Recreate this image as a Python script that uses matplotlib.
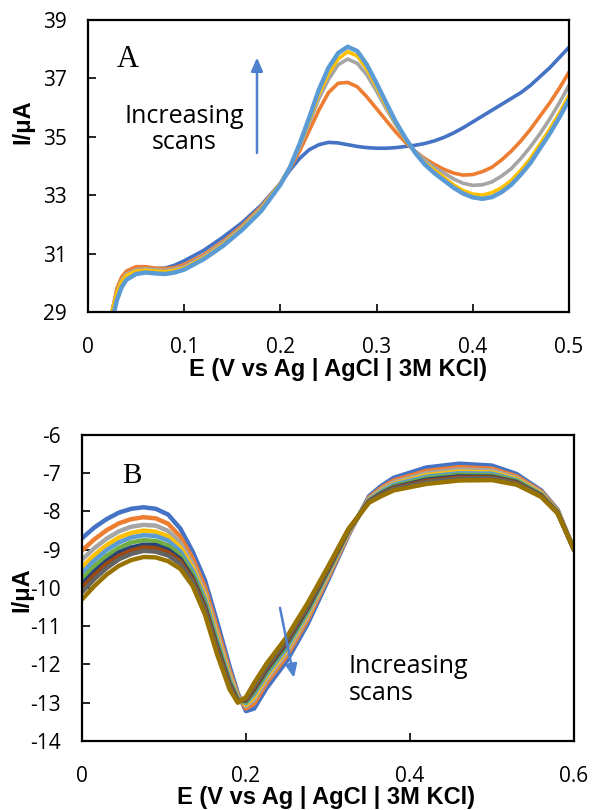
"""
Two-panel voltammogram figure (A: growing oxidation peak, B: repeated scans).
Excel-style look: boxed axes, inward ticks, thick coloured traces.
"""

import matplotlib
matplotlib.use("Agg")
import matplotlib.pyplot as plt

plt.rcParams["axes.unicode_minus"] = False

# ---- panel A: five scans ----------------------------------------------------
xa = [0.025, 0.03, 0.035, 0.04, 0.05, 0.06, 0.07, 0.08, 0.09, 0.10,
      0.12, 0.14, 0.16, 0.18, 0.20, 0.21, 0.22, 0.23, 0.24, 0.25,
      0.26, 0.27, 0.28, 0.29, 0.30, 0.31, 0.32, 0.33, 0.34, 0.35,
      0.36, 0.37, 0.38, 0.39, 0.40, 0.41, 0.42, 0.43, 0.44, 0.45,
      0.46, 0.47, 0.48, 0.49, 0.50]

a_scan1 = [29.0, 29.7, 30.1, 30.3, 30.45, 30.5, 30.48, 30.5, 30.6, 30.75,
           31.1, 31.55, 32.05, 32.65, 33.4, 33.85, 34.25, 34.55, 34.72, 34.8,
           34.78, 34.72, 34.66, 34.62, 34.6, 34.6, 34.62, 34.66, 34.7, 34.76,
           34.85, 34.97, 35.12, 35.3, 35.5, 35.7, 35.9, 36.1, 36.3, 36.5,
           36.75, 37.05, 37.35, 37.7, 38.05]
a_scan2 = [29.0, 29.8, 30.2, 30.4, 30.55, 30.55, 30.5, 30.48, 30.52, 30.62,
           30.95, 31.4, 31.95, 32.6, 33.4, 33.9, 34.5, 35.2, 35.9, 36.5,
           36.82, 36.85, 36.7, 36.35, 35.95, 35.55, 35.15, 34.8, 34.5, 34.25,
           34.05, 33.88, 33.75, 33.68, 33.7, 33.8, 33.95, 34.2, 34.5, 34.85,
           35.25, 35.7, 36.15, 36.65, 37.2]
a_scan3 = [29.0, 29.7, 30.1, 30.3, 30.45, 30.48, 30.45, 30.42, 30.47, 30.55,
           30.9, 31.35, 31.9, 32.55, 33.4, 33.95, 34.65, 35.45, 36.3, 36.95,
           37.45, 37.65, 37.5, 37.1, 36.55, 35.95, 35.4, 34.9, 34.5, 34.2,
           33.95, 33.75, 33.55, 33.4, 33.33, 33.35, 33.45, 33.65, 33.9, 34.25,
           34.65, 35.1, 35.6, 36.15, 36.75]
a_scan4 = [29.0, 29.65, 30.05, 30.25, 30.4, 30.43, 30.4, 30.38, 30.42, 30.5,
           30.85, 31.3, 31.85, 32.5, 33.4, 33.95, 34.7, 35.55, 36.45, 37.15,
           37.65, 37.9, 37.75, 37.3, 36.7, 36.05, 35.45, 34.9, 34.45, 34.1,
           33.85, 33.6, 33.35, 33.15, 33.03, 33.0, 33.08, 33.25, 33.5, 33.85,
           34.25, 34.75, 35.25, 35.8, 36.4]
a_scan5 = [28.7, 29.4, 29.85, 30.1, 30.3, 30.35, 30.32, 30.3, 30.35, 30.45,
           30.8, 31.25, 31.8, 32.45, 33.35, 33.95, 34.75, 35.65, 36.6, 37.35,
           37.85, 38.07, 37.92, 37.45, 36.82, 36.15, 35.5, 34.95, 34.45, 34.05,
           33.75, 33.5, 33.25, 33.05, 32.92, 32.87, 32.93, 33.1, 33.35, 33.7,
           34.1, 34.6, 35.1, 35.65, 36.25]

a_xticks = [0, 0.1, 0.2, 0.3, 0.4, 0.5]
a_xticklabels = ["0", "0.1", "0.2", "0.3", "0.4", "0.5"]
a_yticks = [29, 31, 33, 35, 37, 39]

# ---- panel B: ten scans -----------------------------------------------------
xb = [0, 0.015, 0.03, 0.045, 0.06, 0.075, 0.09, 0.105, 0.12, 0.135,
      0.15, 0.165, 0.18, 0.19, 0.20, 0.21, 0.225, 0.25, 0.275, 0.30,
      0.325, 0.35, 0.365, 0.38, 0.42, 0.46, 0.50, 0.53, 0.56, 0.58, 0.60]

b_scan1 = [-8.70, -8.42, -8.20, -8.03, -7.93, -7.89, -7.93, -8.08, -8.45, -9.05,
           -9.80, -10.90, -12.05, -12.75, -13.22, -13.15, -12.62, -11.90, -10.95, -9.80,
           -8.62, -7.60, -7.33, -7.12, -6.85, -6.75, -6.80, -7.02, -7.45, -7.95, -9.00]
b_scan2 = [-9.02, -8.73, -8.49, -8.31, -8.20, -8.15, -8.18, -8.32, -8.66, -9.23,
           -9.98, -11.07, -12.17, -12.80, -13.15, -13.02, -12.49, -11.77, -10.84, -9.73,
           -8.59, -7.64, -7.38, -7.19, -6.94, -6.84, -6.88, -7.08, -7.48, -7.97, -9.00]
b_scan3 = [-9.26, -8.96, -8.71, -8.52, -8.40, -8.35, -8.37, -8.51, -8.82, -9.37,
           -10.12, -11.20, -12.26, -12.84, -13.09, -12.92, -12.40, -11.68, -10.76, -9.67,
           -8.56, -7.67, -7.42, -7.24, -7.00, -6.90, -6.93, -7.12, -7.51, -7.99, -9.00]
b_scan4 = [-9.45, -9.14, -8.88, -8.68, -8.56, -8.50, -8.53, -8.65, -8.94, -9.47,
           -10.22, -11.30, -12.33, -12.87, -13.05, -12.84, -12.32, -11.60, -10.69, -9.63,
           -8.54, -7.69, -7.46, -7.28, -7.05, -6.96, -6.98, -7.15, -7.53, -8.00, -9.00]
b_scan5 = [-9.60, -9.28, -9.01, -8.81, -8.68, -8.62, -8.64, -8.76, -9.04, -9.55,
           -10.30, -11.38, -12.39, -12.89, -13.01, -12.77, -12.26, -11.55, -10.64, -9.60,
           -8.52, -7.70, -7.48, -7.30, -7.09, -7.00, -7.01, -7.18, -7.55, -8.01, -9.00]
b_scan6 = [-9.76, -9.43, -9.16, -8.95, -8.81, -8.75, -8.77, -8.89, -9.14, -9.64,
           -10.39, -11.46, -12.45, -12.92, -12.98, -12.71, -12.20, -11.48, -10.59, -9.56,
           -8.51, -7.72, -7.51, -7.34, -7.13, -7.04, -7.05, -7.20, -7.56, -8.02, -9.00]
b_scan7 = [-9.90, -9.57, -9.29, -9.07, -8.94, -8.87, -8.88, -9.00, -9.24, -9.73,
           -10.48, -11.54, -12.50, -12.94, -12.94, -12.65, -12.14, -11.43, -10.54, -9.53,
           -8.49, -7.73, -7.53, -7.37, -7.17, -7.08, -7.09, -7.23, -7.58, -8.03, -9.00]
b_scan8 = [-10.00, -9.66, -9.37, -9.16, -9.02, -8.94, -8.96, -9.07, -9.30, -9.78,
           -10.53, -11.59, -12.54, -12.95, -12.92, -12.61, -12.10, -11.39, -10.50, -9.51,
           -8.48, -7.74, -7.55, -7.39, -7.20, -7.11, -7.11, -7.25, -7.59, -8.03, -9.00]
b_scan9 = [-10.11, -9.77, -9.48, -9.25, -9.11, -9.03, -9.05, -9.15, -9.37, -9.84,
           -10.59, -11.65, -12.58, -12.97, -12.89, -12.56, -12.06, -11.35, -10.47, -9.48,
           -8.47, -7.75, -7.57, -7.41, -7.23, -7.14, -7.13, -7.27, -7.60, -8.04, -9.00]
b_scan10 = [-10.30, -9.95, -9.65, -9.42, -9.27, -9.19, -9.20, -9.30, -9.50, -9.95,
            -10.70, -11.75, -12.65, -13.00, -12.85, -12.48, -11.98, -11.27, -10.40, -9.44,
            -8.45, -7.77, -7.60, -7.45, -7.28, -7.19, -7.18, -7.30, -7.62, -8.05, -9.00]

b_xticks = [0, 0.2, 0.4, 0.6]
b_xticklabels = ["0", "0.2", "0.4", "0.6"]
b_yticks = [-14, -13, -12, -11, -10, -9, -8, -7, -6]

# Excel default series colours
COLORS = ["#4472C4", "#ED7D31", "#A5A5A5", "#FFC000", "#5B9BD5",
          "#70AD47", "#264478", "#9E480E", "#636363", "#997300"]
ARROW = "#4F81CF"

XLABEL = "E (V vs Ag | AgCl | 3M KCl)"
YLABEL = "I/\u03bcA"
TICKFONT = "Open Sans"
LABELFONT = "Liberation Sans"


def style_axes(ax, xticks, xticklabels, yticks):
    ax.set_xticks(xticks)
    ax.set_xticklabels(xticklabels)
    ax.set_yticks(yticks)
    ax.set_yticklabels([str(v) for v in yticks])
    for side in ax.spines.values():
        side.set_linewidth(1.6)
        side.set_color("black")
    ax.tick_params(direction="in", length=6, width=1.2, labelsize=15)
    ax.tick_params(axis="x", pad=18)
    ax.tick_params(axis="y", pad=15)
    for lab in ax.get_xticklabels() + ax.get_yticklabels():
        lab.set_fontfamily(TICKFONT)
    ax.set_xlabel(XLABEL, fontsize=17, fontweight="bold", family=LABELFONT)
    ax.set_ylabel(YLABEL, fontsize=17, fontweight="bold", family=LABELFONT)


fig = plt.figure(figsize=(5.92, 8.10), dpi=100)

# panel A
axA = fig.add_axes([0.1486, 0.6148, 0.8125, 0.3611])
for ys, c in zip([a_scan1, a_scan2, a_scan3, a_scan4, a_scan5], COLORS):
    lw = 3.2 if c == "#5B9BD5" else 2.6
    axA.plot(xa, ys, color=c, lw=lw, solid_joinstyle="round", solid_capstyle="round")
axA.set_xlim(0, 0.5)
axA.set_ylim(29, 39)
style_axes(axA, a_xticks, a_xticklabels, a_yticks)
axA.xaxis.set_label_coords(0.52, -0.158)
axA.yaxis.set_label_coords(-0.112, 0.65)
axA.text(0.0416, 37.65, "A", family="Liberation Serif", fontsize=22,
         ha="center", va="center")
axA.text(0.1, 35.24, "Increasing\nscans", family=TICKFONT, fontsize=18,
         ha="center", va="center", linespacing=1.1)
axA.annotate("", xy=(0.1757, 37.7), xytext=(0.1757, 34.44),
             arrowprops=dict(arrowstyle="-|>,head_length=0.8,head_width=0.35",
                             color=ARROW, lw=1.8, shrinkA=0, shrinkB=0))

# panel B
axB = fig.add_axes([0.1385, 0.0852, 0.8311, 0.3778])
b_scans = [b_scan1, b_scan2, b_scan3, b_scan4, b_scan5,
           b_scan6, b_scan7, b_scan8, b_scan9, b_scan10]
for ys, c in zip(b_scans, COLORS):
    axB.plot(xb, ys, color=c, lw=3.2, solid_joinstyle="round", solid_capstyle="round")
axB.set_xlim(0, 0.6)
axB.set_ylim(-14, -6)
style_axes(axB, b_xticks, b_xticklabels, b_yticks)
axB.xaxis.set_label_coords(0.496, -0.146)
axB.yaxis.set_label_coords(-0.098, 0.494)
axB.text(0.061, -7.07, "B", family="Liberation Serif", fontsize=21,
         ha="center", va="center")
axB.text(0.3256, -12.41, "Increasing\nscans", family=TICKFONT, fontsize=18,
         ha="left", va="center", linespacing=1.1)
axB.annotate("", xy=(0.2585, -12.35), xytext=(0.2415, -10.52),
             arrowprops=dict(arrowstyle="-|>,head_length=0.8,head_width=0.35",
                             color=ARROW, lw=1.8, shrinkA=0, shrinkB=0))

fig.savefig("out.png", dpi=100)
